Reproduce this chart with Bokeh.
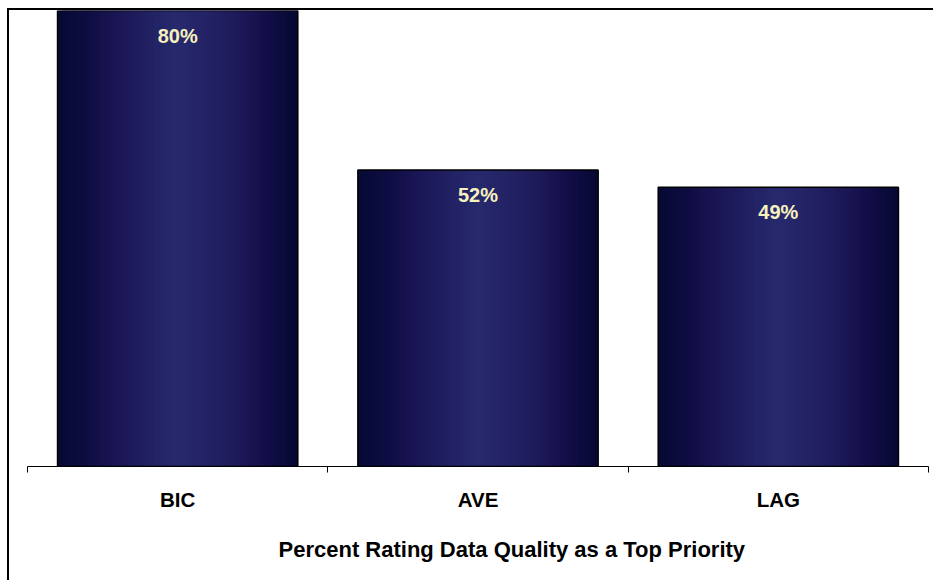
from bokeh.plotting import figure
from bokeh.models import Range1d, FixedTicker, ColumnDataSource, Title
from bokeh.core.properties import value
from bokeh.embed import file_html
from bokeh.resources import INLINE

categories = ["BIC", "AVE", "LAG"]
percent = [80, 52, 49]
value_labels = ["80%", "52%", "49%"]
axis_title = "Percent Rating Data Quality as a Top Priority"

FONT = "Liberation Sans"
BAR_WIDTH = 0.8
N_STRIPS = 60

# horizontal gradient stops (position, rgb)
stops = [(0.0, (5, 10, 52)), (0.12, (14, 12, 66)), (0.25, (27, 22, 86)),
         (0.5, (39, 42, 110)), (0.75, (30, 26, 90)), (0.88, (18, 13, 70)),
         (1.0, (5, 9, 50))]


def grad(t):
    for (p0, c0), (p1, c1) in zip(stops[:-1], stops[1:]):
        if p0 <= t <= p1:
            f = (t - p0) / (p1 - p0) if p1 > p0 else 0
            return "#%02x%02x%02x" % tuple(int(round(a + (b - a) * f)) for a, b in zip(c0, c1))
    return "#%02x%02x%02x" % stops[-1][1]


p = figure(width=926, height=572, output_backend="svg", toolbar_location=None,
           x_range=Range1d(0, len(categories)), y_range=Range1d(0, 80),
           min_border_left=18, min_border_right=7, min_border_top=0,
           min_border_bottom=115)
p.margin = (8, 0, 0, 7)
p.styles = {"border-top": "2px solid black", "border-left": "2px solid black"}
p.background_fill_color = "white"
p.border_fill_color = "white"
p.outline_line_color = None
p.grid.visible = False
p.yaxis.visible = False

centers = [i + 0.5 for i in range(len(categories))]

# gradient strips (each overlaps the next so no seams show)
L, R, T, B, C = [], [], [], [], []
for c, v in zip(centers, percent):
    x0 = c - BAR_WIDTH / 2
    w = BAR_WIDTH / N_STRIPS
    for k in range(N_STRIPS):
        L.append(x0 + k * w)
        R.append(min(x0 + (k + 2) * w, c + BAR_WIDTH / 2))
        T.append(v)
        B.append(0)
        C.append(grad((k + 0.5) / N_STRIPS))
p.quad(left=L, right=R, top=T, bottom=B, fill_color=C, line_color=None)

src = ColumnDataSource(dict(x=centers, top=percent, lab=value_labels))
p.vbar(x="x", top="top", width=BAR_WIDTH, source=src, fill_color=None,
       line_color="black", line_width=1.5)
p.text(x="x", y="top", text="lab", source=src, text_align="center",
       text_baseline="middle", y_offset=25, text_color="#F7F1BE",
       text_font=value(FONT), text_font_style="bold", text_font_size="20px")

ax = p.xaxis[0]
ax.ticker = FixedTicker(ticks=centers, minor_ticks=list(range(len(categories) + 1)))
ax.major_label_overrides = {c: n for c, n in zip(centers, categories)}
ax.major_tick_out = 0
ax.major_tick_in = 0
ax.minor_tick_out = 6
ax.minor_tick_in = 0
ax.axis_line_color = "black"
ax.minor_tick_line_color = "black"
ax.major_label_text_font = FONT
ax.major_label_text_font_style = "bold"
ax.major_label_text_font_size = "20.5px"
ax.major_label_text_color = "black"
ax.major_label_standoff = 15

t = Title(text=axis_title, align="left", offset=251, standoff=42,
          text_font=FONT, text_font_style="bold", text_font_size="22px",
          text_color="black")
p.add_layout(t, "below")

open("out.html", "w").write(file_html(p, INLINE))
